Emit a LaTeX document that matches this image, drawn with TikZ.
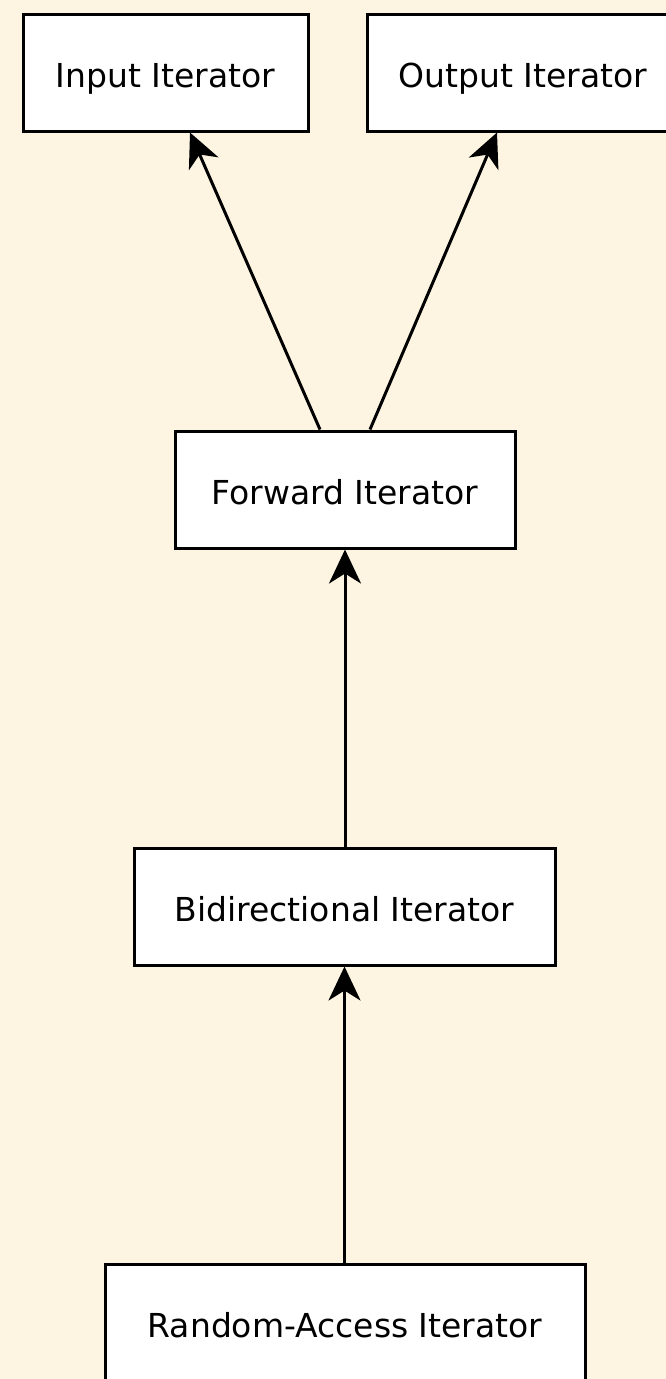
\documentclass[tikz,border=0pt]{standalone}
\usepackage{fontspec}
\setmainfont{DejaVu Sans}
\usetikzlibrary{arrows.meta,positioning}
\definecolor{ItCream}{RGB}{253,245,226}
\definecolor{ItInk}{RGB}{0,0,0}
\tikzset{
  it/box/.style={
    draw=ItInk,
    line width=3pt,
    fill=white,
    align=center,
    text=ItInk,
    minimum height=117pt,
    text height=29pt,
    text depth=0pt,
    inner xsep=6pt,
    font=\fontsize{33}{40}\selectfont
  },
  it/arrow/.style={-{Stealth[length=34pt,width=32pt,inset=10pt]}, line width=3pt, draw=ItInk}
}
\begin{document}
\begin{tikzpicture}[x=1pt,y=1pt]
  \fill[ItCream] (0,0) rectangle (666,-1379);
  \useasboundingbox (0,0) rectangle (666,-1379);
  \begin{scope}
  \clip (0,0) rectangle (666,-1379);
  \node[it/box,minimum width=285pt] (inp) at (165.5,-72.5) {Input Iterator};
  \node[it/box,minimum width=312pt] (out) at (523,-72.5) {Output Iterator};
  \node[it/box,minimum width=340pt] (fwd) at (345,-489.5) {Forward Iterator};
  \node[it/box,minimum width=421pt] (bid) at (344.5,-906.5) {Bidirectional Iterator};
  \node[it/box,minimum width=480pt] (rnd) at (345,-1322.5) {Random-Access Iterator};
  % refinement arrows
  \draw[it/arrow] ([xshift=-25pt]fwd.north) -- ([xshift=24.5pt]inp.south);
  \draw[it/arrow] ([xshift=25pt]fwd.north) -- ([xshift=-26pt]out.south);
  \draw[it/arrow] (bid.north -| fwd.south) -- (fwd.south);
  \draw[it/arrow] (rnd.north -| bid.south) -- (bid.south);
  \end{scope}
\end{tikzpicture}
\end{document}
